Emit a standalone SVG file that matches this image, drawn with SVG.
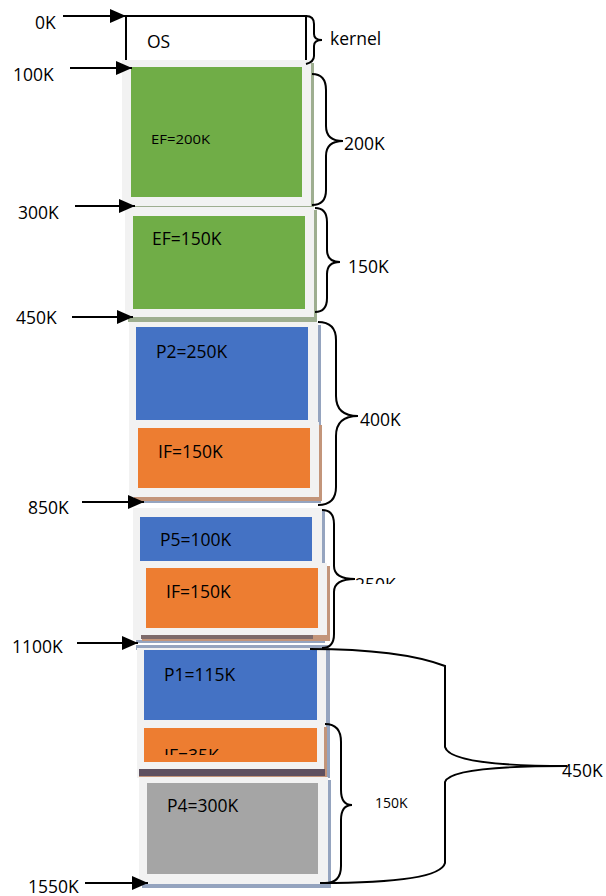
<svg xmlns="http://www.w3.org/2000/svg" width="606" height="896" viewBox="0 0 606 896">
<defs>
<marker id="ah" viewBox="0 0 16 14" refX="16" refY="7" markerWidth="16" markerHeight="14" markerUnits="userSpaceOnUse" orient="auto">
<path d="M0,0 L16,7 L0,14 Z" fill="#000"/>
</marker>
<clipPath id="c250"><rect x="340" y="560" width="100" height="24"/></clipPath>
<clipPath id="c35"><rect x="144" y="728" width="173" height="27"/></clipPath>
<clipPath id="c100"><rect x="0" y="68" width="100" height="30"/></clipPath>
</defs>
<style>
text{font-family:"Open Sans","Noto Sans","Liberation Sans",sans-serif;fill:#000}
.lbl{font-size:17.5px}
.in{font-size:17.5px}
.frame{fill:#f2f2f2}
.g{fill:#70ad47}.b{fill:#4472c4}.o{fill:#ed7d31}.gr{fill:#a5a5a5}
.br{fill:none;stroke:#000;stroke-width:2}
.ar{stroke:#000;stroke-width:2;marker-end:url(#ah)}
</style>
<rect width="606" height="896" fill="#fff"/>

<g id="os">
<path d="M126,60 L126,16 L306,16 L306,60" fill="none" stroke="#000" stroke-width="2"/>
<text class="in" x="147" y="48">OS</text>
</g>

<g id="ef200">
<rect x="125" y="63" width="189" height="146" fill="#9eae90"/>
<rect class="frame" x="122" y="60" width="189" height="146"/>
<rect class="g" x="131" y="67" width="171" height="130"/>
<text x="151" y="144" style="font-size:12px" textLength="59" lengthAdjust="spacingAndGlyphs">EF=200K</text>
</g>

<g id="ef150">
<rect x="128" y="210" width="189" height="112" fill="#9eae90"/>
<rect class="frame" x="125" y="207" width="189" height="110"/>
<rect class="g" x="133" y="216" width="172" height="93"/>
<text class="in" x="152" y="245">EF=150K</text>
</g>

<g id="p2">
<rect x="132" y="325" width="189" height="178" fill="#95a4bf"/>
<rect class="frame" x="129" y="322" width="189" height="178"/>
<rect class="b" x="136" y="327" width="172" height="93"/>
</g>
<g id="if150a">
<rect x="134" y="425" width="188" height="76" fill="#c3957a"/>
<rect class="frame" x="131" y="422" width="188" height="75"/>
<rect class="o" x="138" y="428" width="172" height="60"/>
<text class="in" x="156" y="358">P2=250K</text>
<text class="in" x="158" y="458">IF=150K</text>
</g>

<g id="p5">
<rect x="136" y="511" width="189" height="132" fill="#95a4bf"/>
<rect class="frame" x="133" y="508" width="189" height="132"/>
<rect class="b" x="140" y="517" width="172" height="44"/>
<text class="in" x="160" y="546">P5=100K</text>
</g>
<g id="if150b">
<rect x="142" y="566" width="188" height="75" fill="#c3957a"/>
<rect x="141" y="635" width="172" height="4" fill="#7d6a6a"/>
<rect class="frame" x="139" y="563" width="188" height="72"/>
<rect class="o" x="146" y="568" width="172" height="60"/>
<text class="in" x="166" y="598">IF=150K</text>
</g>

<g id="p1">
<rect x="136" y="645" width="193" height="5" fill="#95a4bf"/>
<rect x="140" y="648" width="190" height="130" fill="#95a4bf"/>
<rect class="frame" x="137" y="648" width="189" height="130"/>
<rect class="b" x="144" y="650" width="173" height="70"/>
<text class="in" x="164" y="681">P1=115K</text>
</g>
<g id="if35">
<rect x="139" y="727" width="188" height="50" fill="#c3957a"/>
<rect x="139" y="769" width="186" height="7" fill="#5e5060"/>
<rect class="frame" x="137" y="724" width="187" height="45"/>
<rect class="o" x="144" y="728" width="173" height="34"/>
<text class="in" x="164" y="762" clip-path="url(#c35)">IF=35K</text>
</g>
<g id="p4">
<rect x="142" y="780" width="189" height="108" fill="#95a4bf"/>
<rect class="frame" x="139" y="777" width="189" height="107"/>
<rect class="gr" x="147" y="783" width="171" height="91"/>
<text class="in" x="167" y="812">P4=300K</text>
</g>

<g id="connectors">
<line class="ar" x1="63" y1="16" x2="126" y2="16"/>
<line class="ar" x1="70" y1="68" x2="132" y2="68"/>
<line class="ar" x1="75" y1="206" x2="135" y2="206"/>
<line class="ar" x1="72" y1="317" x2="133" y2="317"/>
<line class="ar" x1="82" y1="502" x2="144" y2="502"/>
<line class="ar" x1="77" y1="643" x2="138" y2="643"/>
<line class="ar" x1="85" y1="883" x2="148" y2="883"/>

<path class="br" d="M306,16 Q314,16 314,24 L314,34 Q314,40 322,40 Q314,40 314,46 L314,56 Q314,62 306,64"/>
<path class="br" d="M312,74 Q326,74 326,90 L326,126 Q326,141 343,141 Q326,141 326,156 L326,190 Q326,205 312,205"/>
<path class="br" d="M315,208 Q327,208 327,222 L327,250 Q327,262 340,262 Q327,262 327,274 L327,298 Q327,312 315,312"/>
<path class="br" d="M318,322 Q336,322 336,340 L336,396 Q336,416 358,416 Q336,416 336,436 L336,487 Q336,505 318,505"/>
<path class="br" d="M322,510 Q334,510 334,524 L334,566 Q334,579 355,579 Q334,579 334,592 L334,634 Q334,648 322,648"/>
<path class="br" d="M325,724 Q341,724 341,742 L341,790 Q341,805 352,805 Q341,805 341,820 L341,866 Q341,883 325,883"/>
<path class="br" d="M310,649 Q400,649 445,666 L445,747 Q450,766 567,766 Q450,766 445,782 L445,863 Q440,883 320,883"/>
</g>

<g id="labels">
<text class="lbl" x="35" y="29">0K</text>
<text class="lbl" x="13" y="81" clip-path="url(#c100)">100K</text>
<text class="lbl" x="18" y="219">300K</text>
<text class="lbl" x="16" y="324">450K</text>
<text class="lbl" x="28" y="514">850K</text>
<text class="lbl" x="12" y="653">1100K</text>
<text class="lbl" x="28" y="893">1550K</text>
<text class="lbl" x="330" y="45">kernel</text>
<text class="lbl" x="344" y="150">200K</text>
<text class="lbl" x="348" y="273">150K</text>
<text class="lbl" x="360" y="426">400K</text>
<text class="lbl" x="355" y="591" clip-path="url(#c250)">250K</text>
<text x="375" y="808" style="font-size:14px">150K</text>
<text class="lbl" x="562" y="777">450K</text>
</g>
</svg>
